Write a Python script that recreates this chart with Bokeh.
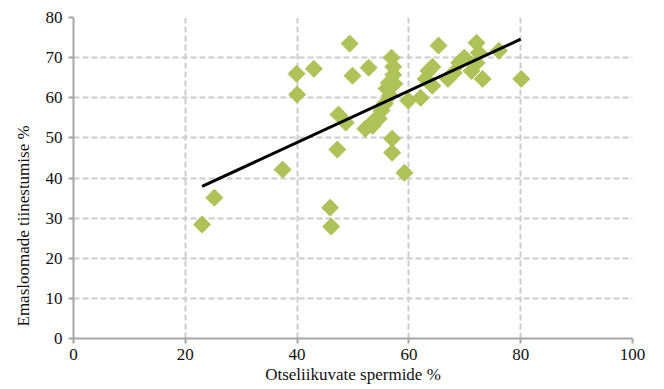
import math
from bokeh.plotting import figure
from bokeh.models import Range1d, FixedTicker, Title
from bokeh.embed import file_html
from bokeh.resources import INLINE

# Data
motile_pct = [23.0, 25.2, 37.4, 39.9, 40.0, 43.0, 45.9, 46.1, 47.2, 47.4, 48.7, 49.4, 49.9,
              52.2, 52.8, 53.5, 53.8, 54.6, 55.1, 55.7, 56.0, 56.4, 56.9, 57.2, 57.2, 56.6, 57.4,
              57.0, 57.0, 59.2, 59.9, 62.1, 63.0, 63.5, 64.2, 64.2, 65.3, 67.0, 68.0, 69.0,
              69.9, 71.2, 72.1, 72.5, 72.1, 73.2, 76.1, 80.1]
pregnancy_pct = [28.4, 35.1, 42.1, 66.0, 60.8, 67.2, 32.6, 27.9, 47.1, 55.8, 53.8, 73.5, 65.5,
                 52.3, 67.5, 53.0, 54.3, 54.8, 56.8, 58.5, 62.3, 63.7, 70.0, 67.7, 65.7, 60.5, 63.5,
                 49.8, 46.3, 41.3, 59.3, 60.0, 64.7, 66.7, 67.7, 63.0, 73.0, 64.7, 66.2, 68.7,
                 70.0, 66.7, 73.7, 71.2, 68.7, 64.7, 71.7, 64.7]
trend_x = [23.0, 80.0]
trend_y = [37.9, 74.6]
x_ticks = [0, 20, 40, 60, 80, 100]
y_ticks = [0, 10, 20, 30, 40, 50, 60, 70, 80]

p = figure(width=656, height=389, output_backend="svg", toolbar_location=None,
           x_range=Range1d(0, 100), y_range=Range1d(0, 80),
           min_border_left=73, min_border_right=24, min_border_top=17, min_border_bottom=51)
p.outline_line_color = None
p.background_fill_color = "white"

serif = "Liberation Serif"
for ax in (p.xaxis[0], p.yaxis[0]):
    ax.axis_line_color = "#A6A6A6"
    ax.axis_line_width = 2
    ax.major_tick_line_color = "#A6A6A6"
    ax.major_tick_line_width = 2
    ax.major_tick_out = 5
    ax.major_tick_in = 0
    ax.minor_tick_line_color = None
    ax.major_label_text_font = serif
    ax.major_label_text_font_size = "17px"
    ax.major_label_text_color = "#111111"
    ax.axis_label_text_font = serif
    ax.axis_label_text_font_size = "17px"
    ax.axis_label_text_font_style = "normal"
    ax.axis_label_text_color = "#111111"

p.xaxis.ticker = FixedTicker(ticks=x_ticks)
p.yaxis.ticker = FixedTicker(ticks=y_ticks)
p.xaxis.axis_label = "Otseliikuvate spermide %"
p.xaxis.major_label_standoff = 5
p.xaxis.axis_label_standoff = 2
p.yaxis.major_label_standoff = 6

p.add_layout(Title(text="Emasloomade tiinestumise %", align="left", offset=12, standoff=20,
                   text_font=serif, text_font_size="17px", text_font_style="normal",
                   text_color="#111111"), "left")

for g in (p.xgrid[0], p.ygrid[0]):
    g.grid_line_color = "#CCCCCC"
    g.grid_line_width = 2
    g.grid_line_dash = "6 3"

p.scatter(motile_pct, pregnancy_pct, marker="square", size=12, angle=math.pi / 4,
          fill_color="#AEC257", line_color="#AEC257", line_width=1)
p.line(trend_x, trend_y, line_color="black", line_width=3)

open("out.html", "w").write(file_html(p, INLINE))
